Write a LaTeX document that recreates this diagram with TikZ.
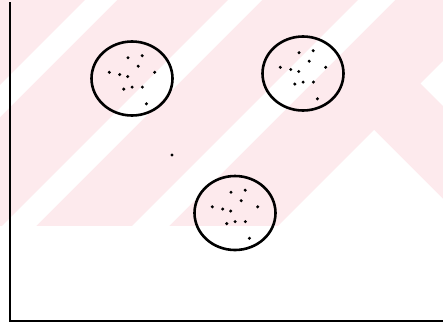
\documentclass[tikz,border=0pt]{standalone}
\usetikzlibrary{shapes.geometric,calc}
\definecolor{wmpink}{RGB}{253,234,237}
\tikzset{
  cluster/.style={ellipse,draw=black,line width=2.6pt,inner sep=0pt,minimum width=81pt,minimum height=74pt},
  dotmark/.style={circle,fill=black,inner sep=0pt,minimum size=3.4pt},
  axisline/.style={line width=2.6pt,black},
  wmstripe/.style={fill=white,draw=none}
}
\begin{document}
\begin{tikzpicture}[x=1pt,y=-1pt]
\useasboundingbox (0,0) rectangle (443,327);
% faint watermark background
\fill[wmpink] (0,0) rectangle (443,226);
\fill[wmstripe] (85,0) -- (117,0) -- (0,117) -- (0,85) -- cycle;
\fill[wmstripe] (228,0) -- (262,0) -- (36,226) -- (2,226) -- cycle;
\fill[wmstripe] (358,0) -- (395,0) -- (169,226) -- (132,226) -- cycle;
\fill[wmstripe] (278,226) -- (374,130) -- (443,199) -- (443,226) -- cycle;
\fill[wmstripe] (420.5,83.5) -- (443,61) -- (443,106) -- cycle;
% axes
\coordinate (top) at (10,2);
\coordinate (origin) at (10,321);
\coordinate (right) at (443,321);
\draw[axisline] (top) -- (origin) -- (right);
% clusters
\node[cluster] (c1) at (132,78.5) {};
\node[cluster] (c2) at (303,73.5) {};
\node[cluster] (c3) at (235,213) {};
\foreach \c in {c1,c2,c3}{
  \foreach \dx/\dy [count=\i] in {-4/-20.8,10.2/-22.8,6.2/-12.3,-22.7/-6.2,-12.3/-4,-4.3/-2,22.7/-6.2,-8.2/10.6,0.1/8.6,10.4/8.6,14.4/25.3}{
    \node[dotmark] (\c-d\i) at ($(\c)+(\dx,\dy)$) {};
  }
}
% isolated point
\node[dotmark] (outlier) at (172,155) {};
\end{tikzpicture}
\end{document}
